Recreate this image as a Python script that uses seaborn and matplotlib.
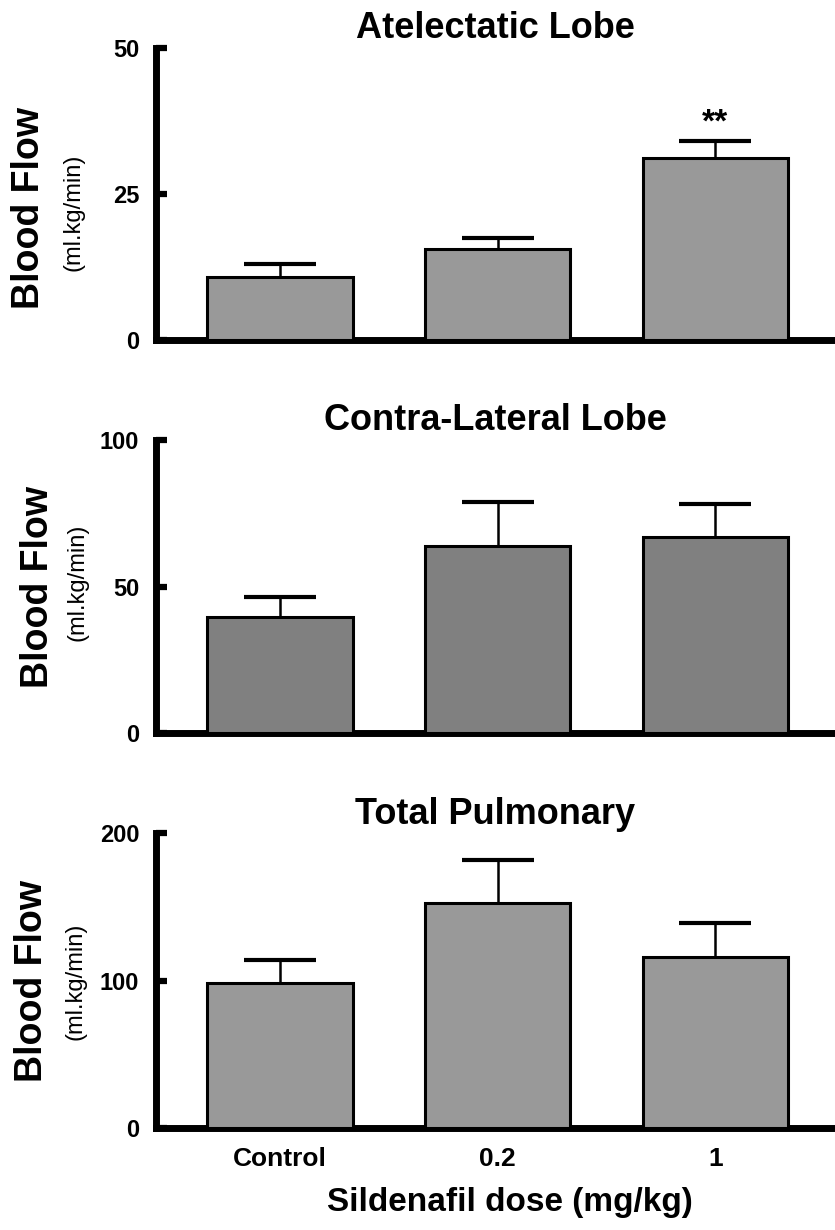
import matplotlib
matplotlib.use("Agg")
import matplotlib.pyplot as plt
import seaborn as sns
import pandas as pd

# ---- data ----
doses = ["Control", "0.2", "1"]
panel_titles = ["Atelectatic Lobe", "Contra-Lateral Lobe", "Total Pulmonary"]
atelectatic_mean = [10.8, 15.6, 31.2]
atelectatic_sem = [2.2, 1.9, 2.9]
contralateral_mean = [39.6, 63.8, 66.9]
contralateral_sem = [6.8, 15.0, 11.3]
total_mean = [98.3, 152.5, 116.0]
total_sem = [15.6, 29.2, 23.0]
y_ticks = [[0, 25, 50], [0, 50, 100], [0, 100, 200]]
y_label = "Blood Flow"
y_unit = "(ml.kg/min)"
x_label = "Sildenafil dose (mg/kg)"
signif = ["", "", "**"]

sns.set_style("white")
plt.rcParams["font.family"] = ["Liberation Sans", "DejaVu Sans"]
plt.rcParams["text.color"] = "black"
plt.rcParams["xtick.color"] = "black"
plt.rcParams["ytick.color"] = "black"
plt.rcParams["axes.labelcolor"] = "black"

means = [atelectatic_mean, contralateral_mean, total_mean]
sems = [atelectatic_sem, contralateral_sem, total_sem]
colors = ["#999999", "#808080", "#999999"]

W, H = 835, 1230
fig = plt.figure(figsize=(W / 100, H / 100), dpi=100)

# layout in pixels: (top, bottom)
rows = [(48, 340), (440, 733), (833, 1128)]
title_y = [28, 421, 815]
lab_x = [(29, 73), (38, 78), (32, 76)]
lab_y = [(208, 212), (587, 582), (981, 981)]
left_px = 156

for i in range(3):
    top, bot = rows[i]
    ax = fig.add_axes([left_px / W, 1 - bot / H, 1 - left_px / W, (bot - top) / H])
    df = pd.DataFrame({"dose": doses, "flow": means[i]})
    sns.barplot(data=df, x="dose", y="flow", order=doses, color=colors[i],
                edgecolor="black", linewidth=2.2, width=0.667, ax=ax,
                saturation=1, errorbar=None, zorder=3)
    _, caps, _ = ax.errorbar(range(3), means[i], yerr=[[0, 0, 0], sems[i]], fmt="none",
                             ecolor="black", elinewidth=1.8, capsize=26, capthick=3.0,
                             zorder=2)
    if len(caps) == 2:
        caps[0].set_visible(False)
    ax.set_xlim(-0.57, 2.55)
    ax.set_ylim(0, y_ticks[i][-1])
    ax.set_yticks(y_ticks[i])
    ax.set_yticklabels([str(t) for t in y_ticks[i]], fontsize=17, fontweight="bold")
    ax.tick_params(axis="y", direction="in", length=8, width=4.5, pad=12, left=True)
    ax.tick_params(axis="x", length=0, pad=14)
    for s in ["top", "right"]:
        ax.spines[s].set_visible(False)
    for s in ["left", "bottom"]:
        ax.spines[s].set_linewidth(5)
        ax.spines[s].set_color("black")
        ax.spines[s].set_capstyle("projecting")
    ax.set_xlabel("")
    ax.set_ylabel("")
    if i < 2:
        ax.set_xticklabels([])
    else:
        ax.set_xticklabels(doses, fontsize=19, fontweight="bold")
    for j, s in enumerate(signif):
        if s and i == 0:
            ax.text(j, means[i][j] + sems[i][j] + 3.0, s, ha="center", va="center",
                    fontsize=24, fontweight="bold")
    cx = (left_px + W) / 2 / W
    fig.text(cx, 1 - title_y[i] / H, panel_titles[i], ha="center", va="center",
             fontsize=26, fontweight="bold")
    fig.text(lab_x[i][0] / W, 1 - lab_y[i][0] / H, y_label, rotation=90,
             ha="center", va="center", fontsize=27, fontweight="bold")
    fig.text(lab_x[i][1] / W, 1 - lab_y[i][1] / H, y_unit, rotation=90,
             ha="center", va="center", fontsize=17)

fig.text(510 / W, 1 - 1203 / H, x_label, ha="center", va="center",
         fontsize=24, fontweight="bold")

fig.savefig("out.png", dpi=100)
